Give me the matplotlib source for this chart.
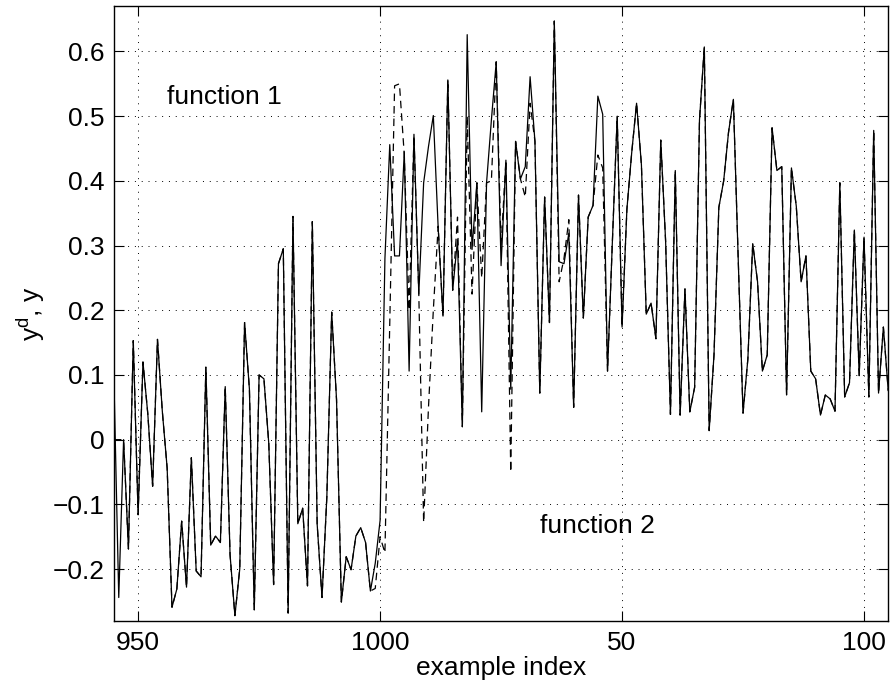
import matplotlib
matplotlib.use("Agg")
import matplotlib.pyplot as plt
import numpy as np

plt.rcParams['font.family'] = ['Liberation Sans', 'DejaVu Sans']
plt.rcParams['mathtext.fontset'] = 'custom'
plt.rcParams['mathtext.rm'] = 'Liberation Sans'
plt.rcParams['mathtext.it'] = 'Liberation Sans'

# example index 945..1000 (function 1), then 1..105 (function 2)
idx = np.arange(945, 1106)

# network output y (solid)
y_out = [
    0.094, -0.244, 0.0, -0.169, 0.153, -0.116, 0.12, 0.04, -0.072, 0.155,
    0.044, -0.044, -0.259, -0.231, -0.126, -0.228, -0.028, -0.203, -0.212, 0.112,
    -0.163, -0.149, -0.159, 0.082, -0.178, -0.272, -0.2, 0.181, 0.078, -0.263,
    0.1, 0.094, -0.006, -0.224, 0.272, 0.295, -0.268, 0.345, -0.13, -0.106,
    -0.226, 0.337, -0.131, -0.244, -0.088, 0.197, 0.062, -0.251, -0.181, -0.201,
    -0.149, -0.136, -0.159, -0.234, -0.191, -0.125, 0.28, 0.456, 0.284, 0.284,
    0.445, 0.106, 0.472, 0.225, 0.397, 0.453, 0.501, 0.328, 0.191, 0.556,
    0.231, 0.309, 0.02, 0.626, 0.294, 0.397, 0.043, 0.397, 0.494, 0.584,
    0.269, 0.432, 0.078, 0.461, 0.403, 0.422, 0.561, 0.461, 0.072, 0.375,
    0.181, 0.647, 0.275, 0.272, 0.319, 0.05, 0.378, 0.188, 0.344, 0.362,
    0.531, 0.503, 0.106, 0.306, 0.5, 0.174, 0.356, 0.444, 0.52, 0.425,
    0.194, 0.211, 0.156, 0.463, 0.307, 0.039, 0.416, 0.038, 0.233, 0.043,
    0.081, 0.494, 0.607, 0.014, 0.131, 0.359, 0.4, 0.475, 0.526, 0.28,
    0.041, 0.125, 0.303, 0.244, 0.106, 0.131, 0.482, 0.416, 0.422, 0.069,
    0.42, 0.361, 0.244, 0.284, 0.106, 0.094, 0.038, 0.069, 0.063, 0.044,
    0.397, 0.066, 0.088, 0.324, 0.099, 0.313, 0.066, 0.478, 0.072, 0.174,
    0.076,
]

# desired output y^d (dashed)
y_des = [
    0.0, 0.0, 0.0, -0.169, 0.153, -0.116, 0.12, 0.04, -0.072, 0.155,
    0.044, -0.044, -0.259, -0.231, -0.126, -0.228, -0.028, -0.203, -0.212, 0.112,
    -0.163, -0.149, -0.159, 0.082, -0.178, -0.272, -0.2, 0.181, 0.078, -0.263,
    0.1, 0.094, -0.006, -0.224, 0.272, 0.295, -0.268, 0.345, -0.13, -0.106,
    -0.226, 0.337, -0.131, -0.244, -0.088, 0.197, 0.062, -0.251, -0.181, -0.201,
    -0.149, -0.136, -0.159, -0.234, -0.23, -0.15, -0.175, 0.18, 0.547, 0.55,
    0.44, 0.2, 0.47, 0.225, -0.128, 0.05, 0.2, 0.33, 0.19, 0.556,
    0.231, 0.344, 0.02, 0.5, 0.225, 0.397, 0.25, 0.397, 0.4, 0.584,
    0.3, 0.432, -0.05, 0.461, 0.403, 0.375, 0.52, 0.461, 0.072, 0.375,
    0.181, 0.647, 0.244, 0.28, 0.34, 0.05, 0.378, 0.188, 0.344, 0.362,
    0.44, 0.42, 0.106, 0.306, 0.5, 0.174, 0.356, 0.444, 0.52, 0.425,
    0.194, 0.211, 0.156, 0.463, 0.307, 0.039, 0.416, 0.038, 0.233, 0.043,
    0.081, 0.494, 0.607, 0.014, 0.131, 0.359, 0.4, 0.475, 0.526, 0.28,
    0.041, 0.125, 0.303, 0.244, 0.106, 0.131, 0.482, 0.416, 0.422, 0.069,
    0.42, 0.361, 0.244, 0.284, 0.106, 0.094, 0.038, 0.069, 0.063, 0.044,
    0.397, 0.066, 0.088, 0.324, 0.099, 0.313, 0.066, 0.478, 0.072, 0.174,
    0.076,
]

xtick_pos = [950, 1000, 1050, 1100]
xtick_labels = ['950', '1000', '50', '100']
ytick_pos = [-0.2, -0.1, 0, 0.1, 0.2, 0.3, 0.4, 0.5, 0.6]
ytick_labels = ['\u22120.2', '\u22120.1', '0', '0.1', '0.2', '0.3', '0.4', '0.5', '0.6']

fig = plt.figure(figsize=(8.9, 6.89), dpi=100)
ax = fig.add_axes([0.128, 0.099, 0.870, 0.892])

ax.plot(idx, y_des, color='black', lw=0.9, ls=(0, (6, 4)))
ax.plot(idx, y_out, color='black', lw=0.9)

ax.set_xlim(945, 1105)
ax.set_ylim(-0.28, 0.67)
ax.set_xticks(xtick_pos)
ax.set_xticklabels(xtick_labels)
ax.set_yticks(ytick_pos)
ax.set_yticklabels(ytick_labels)

ax.grid(True, color='black', ls=(0, (1, 6)), lw=0.7)
ax.tick_params(direction='in', length=7, width=0.8, top=True, right=True,
               labelsize=19, pad=7)
for s in ax.spines.values():
    s.set_linewidth(1.0)

ax.text(956, 0.53, 'function 1', fontsize=19, va='center', ha='left')
ax.text(1033, -0.134, 'function 2', fontsize=19, va='center', ha='left')

ax.set_xlabel('example index', fontsize=19, labelpad=1)
ax.set_ylabel(r'$\mathregular{y^d}$, y', fontsize=19, labelpad=4)

fig.savefig('out.png', dpi=100)
